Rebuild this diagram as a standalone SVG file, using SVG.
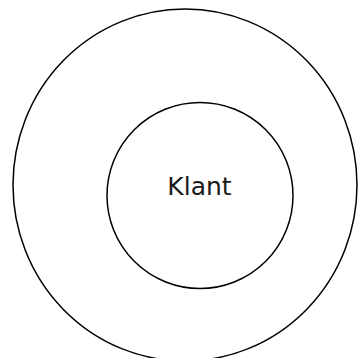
<svg xmlns="http://www.w3.org/2000/svg" width="358" height="358" viewBox="0 0 358 358">
<style>
.ring{fill:none;stroke:#000;stroke-width:1.5}
.lbl{font-family:"DejaVu Sans",Verdana,sans-serif;font-size:25px;fill:#1a1a1a;text-anchor:middle}
</style>
<rect width="358" height="358" fill="#fff"/>
<g id="outer"><ellipse class="ring" cx="185" cy="185" rx="172" ry="176"/></g>
<g id="klant"><circle class="ring" cx="200" cy="195.5" r="93"/><text class="lbl" x="199.5" y="195">Klant</text></g>
<g id="connectors"/>
</svg>
